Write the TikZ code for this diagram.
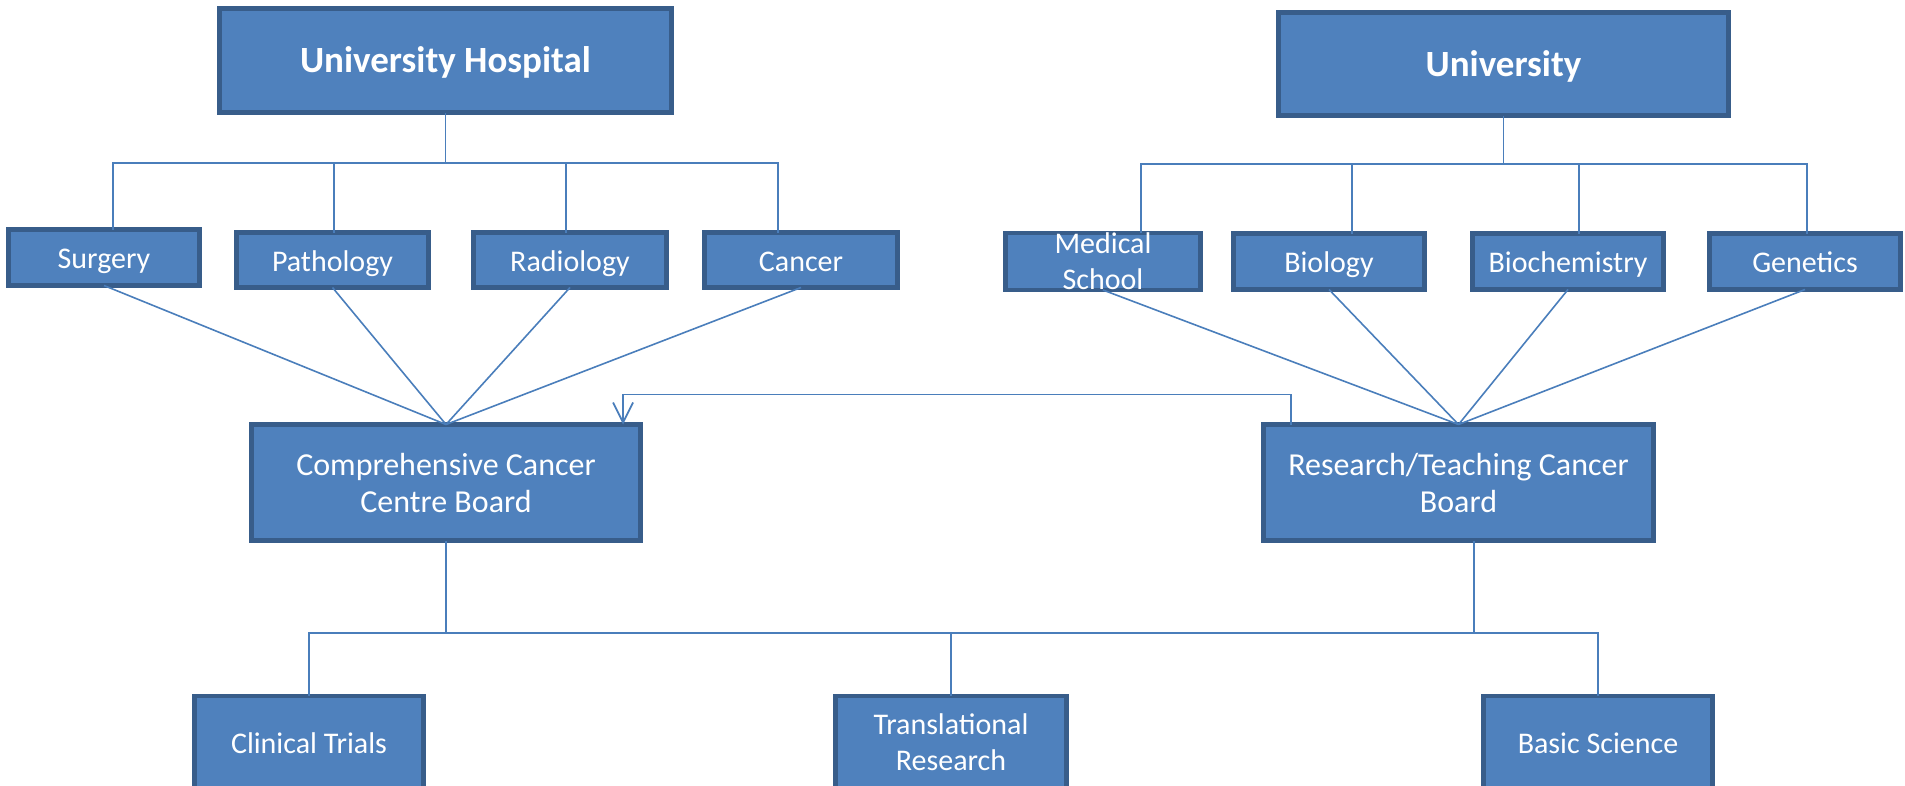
\documentclass[tikz,border=0pt]{standalone}
\usepackage{fontspec}
\setmainfont{Carlito}
\usetikzlibrary{arrows.meta}
\definecolor{boxfill}{HTML}{4F81BD}
\definecolor{boxline}{HTML}{385D8A}
\definecolor{connline}{HTML}{4A7EBB}
\tikzset{
  box/.style={draw=boxline, fill=boxfill, line width=4.5pt, text=white, align=center, inner sep=0pt, outer sep=0pt,
    font=\fontsize{30}{36}\selectfont},
  oneline/.style={box, text height=28pt, text depth=6pt},
  boardbox/.style={box, font=\fontsize{32}{37}\selectfont},
  titlebox/.style={box, font=\fontsize{37}{43}\selectfont\bfseries, text height=30pt, text depth=6pt},
  conn/.style={draw=connline, line width=1.6pt},
}
\begin{document}
\begin{tikzpicture}[x=1pt,y=-1pt]
\useasboundingbox (0,0) rectangle (1905,785);
\clip (0,0) rectangle (1905,785);
% top boxes
\node[titlebox, minimum width=452, minimum height=104] (hosp) at (445.5,60.5) {University Hospital};
\node[titlebox, minimum width=450, minimum height=103] (univ) at (1503.5,64) {University};
% children
\node[oneline, minimum width=191, minimum height=56] (surgery) at (104,257.5) {Surgery};
\node[oneline, minimum width=192, minimum height=55] (patho) at (332.5,260) {Pathology};
\node[oneline, minimum width=193, minimum height=55] (radio) at (570,260) {Radiology};
\node[oneline, minimum width=193, minimum height=55] (cancer) at (801,260) {Cancer};
\node[box, minimum width=195, minimum height=56] (medical) at (1103,261.5) {Medical\\School};
\node[oneline, minimum width=191, minimum height=56] (biology) at (1329,261.5) {Biology};
\node[oneline, minimum width=191, minimum height=56] (biochem) at (1568,261.5) {Biochemistry};
\node[oneline, minimum width=191, minimum height=56] (genetics) at (1805,261.5) {Genetics};
% boards
\node[boardbox, minimum width=389, minimum height=116] (ccc) at (446,482.5) {Comprehensive Cancer\\Centre Board};
\node[boardbox, minimum width=390, minimum height=116] (rt) at (1458.5,482.5) {Research/Teaching Cancer\\Board};
% bottom
\node[oneline, minimum width=229, minimum height=92] (clinical) at (309,742) {Clinical Trials};
\node[box, minimum width=231, minimum height=92] (trans) at (951,742) {Translational\\Research};
\node[oneline, minimum width=229, minimum height=92] (basic) at (1598,742) {Basic Science};
% branch points
\coordinate (hb) at (445.5,163);
\coordinate (ub) at (1503.5,164);
\coordinate (bl) at (446,633);
\coordinate (br) at (1474,633);
% hospital tree
\draw[conn] (hosp.south) -- (hb);
\draw[conn] ([xshift=9pt]surgery.north) |- (hb);
\draw[conn] ([xshift=1.5pt]patho.north) |- (hb);
\draw[conn] ([xshift=-4pt]radio.north) |- (hb);
\draw[conn] ([xshift=-23pt]cancer.north) |- (hb);
% university tree
\draw[conn] (univ.south) -- (ub);
\draw[conn] ([xshift=38pt]medical.north) |- (ub);
\draw[conn] ([xshift=23pt]biology.north) |- (ub);
\draw[conn] ([xshift=11pt]biochem.north) |- (ub);
\draw[conn] ([xshift=2pt]genetics.north) |- (ub);
% diagonals
\foreach \n in {surgery,patho,radio,cancer}
  \draw[conn] (\n.south) -- (ccc.north);
\foreach \n in {medical,biology,biochem,genetics}
  \draw[conn] (\n.south) -- (rt.north);
% arrow between boards
\draw[conn, -{Straight Barb[length=20pt,width=20pt,line width=1.8pt]}]
  ([xshift=-167.5pt]rt.north) -- ++(0,-30) -| ([xshift=177pt]ccc.north);
% bottom tree
\draw[conn] (ccc.south) -- (bl);
\draw[conn] ([xshift=15.5pt]rt.south) -- (br);
\draw[conn] (bl) -- (br);
\draw[conn] (clinical.north) |- (bl);
\draw[conn] (trans.north) |- (bl);
\draw[conn] (basic.north) |- (br);
\end{tikzpicture}
\end{document}
